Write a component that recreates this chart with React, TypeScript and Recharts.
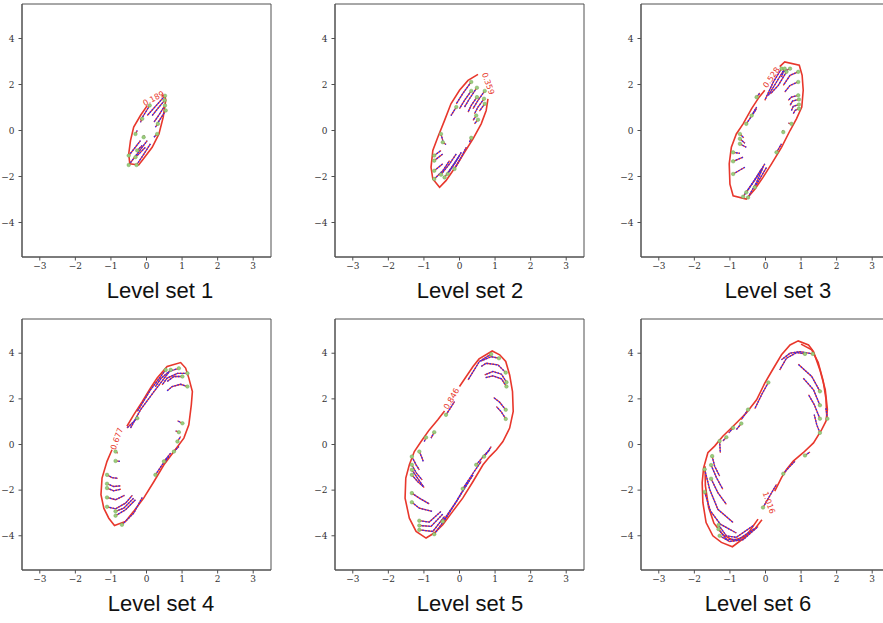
import React from 'react';
import { ScatterChart, Scatter, XAxis, YAxis, ReferenceArea } from 'recharts';

type P = [number, number];

// ---------- axes / labels ----------
const xTicks = [-3, -2, -1, 0, 1, 2, 3];
const yTicks = [-4, -2, 0, 2, 4];
const xDomain: [number, number] = [-3.5, 3.5];
const yDomain: [number, number] = [-5.5, 5.5];
const titles = ['Level set 1', 'Level set 2', 'Level set 3', 'Level set 4', 'Level set 5', 'Level set 6'];
const levelValues = ['0.189', '0.359', '0.528', '0.677', '0.846', '1.016'];
const levelLabelPos: P[] = [[0.2, 1.38], [0.8, 2.04], [0.17, 2.3], [-0.83, 0.25], [-0.22, 2.0], [0.09, -2.55]];

// ---------- level set contours ----------
const contour1: P[] = [[0.02,1.08],[-0.17,0.65],[-0.36,0.15],[-0.45,-0.44],[-0.5,-1.02],[-0.47,-1.45],[-0.22,-1.5],[-0.09,-1.24],[0.16,-0.73],[0.35,-0.15],[0.47,0.58],[0.54,1.31],[0.52,1.5],[0.42,1.52]];
const contour2: P[] = [[0.52,2.44],[0.24,2.18],[0,1.75],[-0.24,1.16],[-0.42,0.44],[-0.61,-0.29],[-0.75,-0.87],[-0.8,-1.6],[-0.75,-2.11],[-0.56,-2.47],[-0.38,-2.18],[-0.09,-1.53],[0.14,-0.95],[0.38,-0.36],[0.61,0.29],[0.75,0.87],[0.8,1.38]];
const contour3: P[] = [[0.4,2.78],[0.54,2.98],[0.95,2.84],[1.03,2.4],[1.06,1.75],[1.02,1.02],[0.87,0.51],[0.69,0],[0.45,-0.73],[0.17,-1.45],[-0.07,-2.04],[-0.3,-2.55],[-0.54,-2.98],[-0.91,-2.84],[-1.0,-2.33],[-1.02,-1.45],[-0.96,-0.73],[-0.82,-0.15],[-0.63,0.29],[-0.39,0.95],[-0.18,1.45],[-0.02,1.75]];
const contour4: P[] = [[-0.97,-0.23],[-1.11,-0.74],[-1.25,-1.47],[-1.28,-2.2],[-1.2,-2.79],[-1.06,-3.23],[-0.9,-3.55],[-0.59,-3.37],[-0.36,-2.93],[-0.08,-2.35],[0.21,-1.62],[0.49,-0.89],[0.77,-0.31],[1.05,0.28],[1.19,0.86],[1.26,1.74],[1.29,2.32],[1.19,2.91],[1.1,3.35],[0.96,3.59],[0.58,3.42],[0.3,2.91],[0.11,2.47],[-0.12,1.88],[-0.36,1.3],[-0.55,0.8]];
const contour5: P[] = [[0,2.54],[0.19,2.98],[0.38,3.42],[0.55,3.75],[0.92,4.1],[1.13,3.93],[1.3,3.64],[1.41,3.05],[1.49,2.32],[1.51,1.45],[1.41,0.72],[1.22,0.13],[1.04,-0.23],[0.85,-0.53],[0.66,-0.89],[0.38,-1.62],[0.09,-2.35],[-0.19,-2.93],[-0.47,-3.52],[-0.71,-3.88],[-0.94,-4.1],[-1.22,-3.81],[-1.41,-3.23],[-1.53,-2.35],[-1.51,-1.47],[-1.41,-0.89],[-1.27,-0.31],[-1.08,0.13],[-0.85,0.64],[-0.61,1.08],[-0.42,1.47]];
const contour6: P[] = [[-0.21,-3.27],[-0.44,-3.78],[-0.58,-4.07],[-0.93,-4.48],[-1.24,-4.29],[-1.48,-4.0],[-1.67,-3.42],[-1.76,-2.55],[-1.78,-1.67],[-1.74,-1.02],[-1.62,-0.36],[-1.43,-0.07],[-1.2,0.36],[-0.91,0.8],[-0.54,1.38],[-0.25,1.96],[-0.02,2.69],[0.17,3.2],[0.45,3.93],[0.69,4.36],[0.92,4.54],[1.21,4.36],[1.35,4.07],[1.53,3.27],[1.68,2.4],[1.74,1.53],[1.7,1.02],[1.58,0.65],[1.35,0.07],[1.06,-0.36],[0.78,-0.73],[0.59,-1.09],[0.45,-1.45],[0.26,-2.04]];
const contour6Inner: P[][] = [
  [[-1.7,-0.95],[-1.69,-1.8],[-1.6,-2.75],[-1.45,-3.45],[-1.2,-3.95],[-0.9,-4.2],[-0.6,-4.05],[-0.3,-3.7],[-0.1,-3.3]],
  [[1.0,4.4],[1.3,4.15],[1.48,3.6],[1.62,2.8],[1.7,2.0],[1.72,1.3]],
];

// ---------- trajectories (first point = start marker) ----------
const traj1: P[][] = [
  [[0.52,1.51],[0.27,1.08],[0.02,0.65]],
  [[0.51,1.31],[0.33,0.98],[0.16,0.65]],
  [[0.52,1.09],[0.37,0.72],[0.21,0.36]],
  [[0.54,0.87],[0.42,0.58],[0.3,0.29]],
  [[0.09,1.09],[-0.04,0.76],[-0.17,0.44]],
  [[0.32,0.29],[0.25,0.15]],
  [[0.3,-0.15],[0.21,-0.29]],
  [[-0.5,-1.5],[-0.24,-0.97],[0.02,-0.44]],
  [[-0.28,-1.5],[-0.08,-1.04],[0.11,-0.58]],
  [[-0.5,-1.09],[-0.33,-0.76],[-0.17,-0.44]],
  [[-0.31,-1.16],[-0.17,-0.95],[-0.03,-0.73]],
  [[-0.26,-0.87],[-0.12,-0.65]],
  [[-0.31,-0.15],[-0.26,0]],
  [[-0.08,-0.29],[-0.06,-0.22]],
  [[-0.12,0.51],[-0.17,0.36]],
];
const traj2: P[][] = [
  [[0.33,2.11],[0.09,1.6],[-0.09,1.16]],
  [[0.33,1.72],[0.14,1.31],[0,0.95]],
  [[0.49,1.86],[0.28,1.38],[0.14,1.02]],
  [[0.49,1.45],[0.33,1.09],[0.24,0.8]],
  [[0.71,1.72],[0.52,1.31],[0.38,0.95]],
  [[0.69,1.38],[0.52,1.02],[0.42,0.73]],
  [[0.71,1.16],[0.56,0.84]],
  [[0.47,0.65],[0.38,0.44]],
  [[0.52,0.47],[0.42,0.29]],
  [[-0.09,1.02],[-0.24,0.65]],
  [[0.33,-0.32],[0.28,-0.51]],
  [[-0.52,-0.15],[-0.47,-0.44]],
  [[-0.47,-0.51],[-0.38,-0.61]],
  [[-0.71,-1.09],[-0.52,-0.87]],
  [[-0.71,-1.31],[-0.47,-1.02]],
  [[-0.71,-1.75],[-0.47,-1.45]],
  [[-0.71,-2.11],[-0.47,-1.75],[-0.28,-1.31]],
  [[-0.52,-1.92],[-0.28,-1.45],[-0.09,-1.02]],
  [[-0.33,-1.89],[-0.14,-1.45],[0.05,-0.95]],
  [[-0.14,-1.67],[0.05,-1.16],[0.19,-0.73]],
  [[-0.42,-2.04],[-0.19,-1.53],[0,-1.09]],
];
const traj3: P[][] = [
  [[0.45,2.69],[0.22,2.11],[-0.02,1.31]],
  [[0.54,2.69],[0.31,2.11],[0.08,1.53]],
  [[0.59,2.55],[0.36,1.96],[0.14,1.6]],
  [[0.69,2.69],[0.5,2.55],[0.45,2.33]],
  [[0.92,2.55],[0.69,2.4],[0.5,1.96]],
  [[0.92,2.11],[0.69,1.96],[0.54,1.67]],
  [[0.92,1.53],[0.73,1.45],[0.64,1.31]],
  [[0.94,1.35],[0.76,1.28],[0.69,1.09]],
  [[0.94,1.13],[0.78,1.05],[0.73,0.87]],
  [[0.94,0.95],[0.83,0.87],[0.78,0.73]],
  [[0.73,0.29],[0.64,0.32]],
  [[0.5,-0.07],[0.48,0]],
  [[-0.54,0.29],[-0.25,0.95]],
  [[-0.39,0.65],[-0.25,1.02]],
  [[-0.25,1.45],[-0.16,1.63]],
  [[-0.72,-0.15],[-0.61,-0.32]],
  [[-0.72,-0.36],[-0.58,-0.55]],
  [[-0.72,-0.58],[-0.54,-0.73]],
  [[-0.91,-0.95],[-0.72,-0.99]],
  [[-0.91,-1.34],[-0.63,-1.16]],
  [[-0.91,-1.89],[-0.58,-1.6]],
  [[-0.49,-2.91],[-0.25,-2.25],[-0.07,-1.6]],
  [[-0.63,-2.88],[-0.35,-2.25],[-0.11,-1.67]],
  [[-0.54,-2.69],[-0.25,-2.04],[-0.02,-1.45]],
  [[-0.3,-2.47],[0.03,-1.6]],
  [[0.31,-0.95],[0.45,-0.58]],
];
const traj4: P[][] = [
  [[0.68,3.27],[0.21,2.32],[-0.17,1.52],[-0.45,0.72]],
  [[0.54,3.27],[0.11,2.39],[-0.26,1.45]],
  [[0.91,3.34],[0.63,3.2],[0.4,2.88],[0.25,2.54]],
  [[1.15,3.12],[0.87,3.12],[0.58,2.91],[0.44,2.61]],
  [[1.01,2.98],[0.77,2.98],[0.58,2.76]],
  [[1.15,2.54],[0.96,2.64],[0.72,2.54],[0.58,2.35]],
  [[1.01,0.93],[0.87,1.04]],
  [[0.91,0.54],[0.82,0.6]],
  [[0.87,0.13],[0.96,0.35]],
  [[-0.26,1.15],[-0.55,0.72]],
  [[0.25,-1.33],[0.44,-0.89],[0.63,-0.53]],
  [[0.49,-0.74],[0.68,-0.38]],
  [[0.77,-0.31],[0.91,-0.09]],
  [[-0.87,-0.31],[-0.81,-0.38]],
  [[-0.87,-0.72],[-0.75,-0.74]],
  [[-1.11,-1.33],[-0.97,-1.45],[-0.81,-1.48]],
  [[-1.11,-1.72],[-0.92,-1.84],[-0.73,-1.81]],
  [[-1.11,-1.91],[-0.92,-2.03],[-0.72,-1.96]],
  [[-1.11,-2.32],[-0.87,-2.42],[-0.62,-2.23]],
  [[-1.11,-2.73],[-0.87,-2.82],[-0.59,-2.57],[-0.4,-2.23]],
  [[-0.87,-2.93],[-0.64,-2.79],[-0.36,-2.35]],
  [[-0.87,-3.12],[-0.59,-2.86],[-0.31,-2.42]],
  [[-0.69,-3.52],[-0.36,-3.01],[-0.12,-2.32]],
];
const traj5: P[][] = [
  [[0.89,3.96],[0.56,3.64],[0.24,2.83]],
  [[1.11,3.78],[0.89,3.85],[0.61,3.66]],
  [[1.3,3.15],[1.08,3.49],[0.75,3.56],[0.61,3.42]],
  [[1.32,2.73],[1.18,3.08],[0.94,3.2],[0.71,3.05]],
  [[1.32,2.54],[1.18,2.88],[0.94,3.01],[0.73,2.93]],
  [[1.3,1.52],[1.13,1.85],[0.96,2.06]],
  [[1.3,1.12],[1.18,1.42],[1.04,1.66]],
  [[-0.38,1.3],[-0.14,1.88]],
  [[-0.71,0.54],[-0.8,0.28]],
  [[-0.94,0.31],[-0.99,0.13]],
  [[-1.13,-0.31],[-1.05,-0.6],[-1.02,-0.74]],
  [[-1.34,-0.53],[-1.22,-0.89],[-1.13,-1.11]],
  [[-1.34,-0.89],[-1.21,-1.26],[-1.05,-1.55]],
  [[-1.34,-1.11],[-1.18,-1.47],[-1.02,-1.84]],
  [[-1.34,-1.33],[-1.18,-1.62],[-0.99,-1.88]],
  [[-1.34,-2.13],[-1.13,-2.35],[-0.85,-2.6]],
  [[-1.34,-2.53],[-1.13,-2.79],[-0.77,-2.93]],
  [[-1.13,-3.34],[-0.85,-3.4],[-0.52,-2.93]],
  [[-1.13,-3.55],[-0.8,-3.59],[-0.47,-3.05]],
  [[-1.13,-3.74],[-0.75,-3.81],[-0.42,-3.15]],
  [[-0.71,-3.93],[-0.38,-3.23],[0,-2.28],[0.38,-1.33]],
  [[0.09,-1.94],[0.38,-1.26],[0.61,-0.74]],
  [[0.47,-0.89],[0.71,-0.45],[0.85,-0.23]],
  [[0.69,-0.53],[0.8,-0.31],[0.89,-0.09]],
  [[-0.47,-3.37],[-0.09,-2.5],[0.24,-1.62]],
];
const traj6: P[][] = [
  [[1.33,3.97],[0.97,4.07],[0.69,4.0],[0.45,3.71]],
  [[1.11,3.97],[0.88,4.03],[0.59,3.78],[0.4,3.27]],
  [[1.53,2.33],[1.3,2.98],[0.92,3.52]],
  [[1.53,1.72],[1.35,2.4],[1.06,2.91]],
  [[1.53,1.13],[1.37,1.75],[1.21,2.18]],
  [[1.53,0.51],[1.44,0.87],[1.37,1.31]],
  [[1.11,-0.48],[1.25,-0.33]],
  [[0.5,-1.28],[0.69,-0.95],[0.83,-0.73]],
  [[-0.07,-2.76],[0.12,-2.25],[0.31,-1.75]],
  [[0.08,2.72],[-0.11,2.18],[-0.3,1.57]],
  [[-0.49,1.53],[-0.68,1.09]],
  [[-0.68,0.92],[-0.82,0.65]],
  [[-0.91,0.73],[-1.03,0.51]],
  [[-1.1,0.32],[-1.2,0.15]],
  [[-1.29,0.15],[-1.27,-0.36]],
  [[-1.5,-0.51],[-1.43,-0.95],[-1.29,-1.38]],
  [[-1.53,-0.9],[-1.38,-1.45],[-1.2,-1.96]],
  [[-1.53,-1.5],[-1.34,-2.11],[-1.1,-2.62]],
  [[-1.71,-1.09],[-1.57,-1.96],[-1.34,-2.84],[-0.91,-3.42]],
  [[-1.71,-2.08],[-1.55,-2.91],[-1.27,-3.49],[-0.82,-3.88]],
  [[-1.32,-3.53],[-1.1,-4.0],[-0.82,-4.07],[-0.35,-3.56]],
  [[-1.32,-3.71],[-1.1,-4.15],[-0.77,-4.17],[-0.3,-3.68]],
  [[-1.29,-4.0],[-1.01,-4.25],[-0.63,-4.17],[-0.21,-3.59]],
  [[1.74,1.13],[1.7,1.6]],
];

const contours: P[][][] = [[contour1], [contour2], [contour3], [contour4], [contour5], [contour6, ...contour6Inner]];
const trajectories: P[][][] = [traj1, traj2, traj3, traj4, traj5, traj6];

// ---------- layout & style (not data) ----------
const PLOT_W = 249;
const Y_AXIS_W = 22;
const X_AXIS_H = 30;
const LAYOUT = [
  { left: 22, top: 4, h: 253, titleX: 160, titleBase: 299, labelAngle: -28 },
  { left: 335, top: 4, h: 253, titleX: 470, titleBase: 299, labelAngle: 70 },
  { left: 641, top: 4, h: 253, titleX: 778, titleBase: 299, labelAngle: -55 },
  { left: 22, top: 319, h: 251, titleX: 161, titleBase: 612, labelAngle: -70 },
  { left: 335, top: 319, h: 251, titleX: 470, titleBase: 612, labelAngle: -60 },
  { left: 641, top: 319, h: 251, titleX: 758, titleBase: 612, labelAngle: 70 },
];
const RED = '#e8372c';
const BLUE = '#2b2bff';
const GREEN = '#9acd7a';
const FRAME = '#505050';
const tickStyle = { fontFamily: "'DejaVu Serif', 'Liberation Serif', serif", fontSize: 9, fill: '#333' };

const toPts = (arr: P[]) => arr.map(([x, y]) => ({ x, y }));
const fmt = (v: number) => String(v).replace('-', '\u2212');
const Empty = () => <g />;

function Panel({ i }: { i: number }) {
  const L = LAYOUT[i];
  const starts = trajectories[i].map((t) => t[0]);
  const label = [{ x: levelLabelPos[i][0], y: levelLabelPos[i][1], text: levelValues[i] }];
  return (
    <div style={{ position: 'absolute', left: L.left - Y_AXIS_W, top: L.top - 4 }}>
      <ScatterChart
        width={Y_AXIS_W + PLOT_W + 8}
        height={4 + L.h + X_AXIS_H}
        margin={{ top: 4, right: 8, bottom: 0, left: 0 }}
      >
        <XAxis
          type="number"
          dataKey="x"
          domain={xDomain}
          ticks={xTicks}
          allowDataOverflow
          height={X_AXIS_H}
          tickSize={3.5}
          tickMargin={2}
          tick={tickStyle}
          tickFormatter={fmt}
          stroke={FRAME}
          interval={0}
        />
        <YAxis
          type="number"
          dataKey="y"
          domain={yDomain}
          ticks={yTicks}
          allowDataOverflow
          width={Y_AXIS_W}
          tickSize={3.5}
          tickMargin={4}
          tick={tickStyle}
          tickFormatter={fmt}
          stroke={FRAME}
          interval={0}
        />
        <ReferenceArea x1={xDomain[0]} x2={xDomain[1]} y1={yDomain[0]} y2={yDomain[1]} fill="none" stroke={FRAME} strokeWidth={1} />
        {contours[i].map((c, k) => (
          <Scatter
            key={'c' + k}
            data={toPts(c)}
            shape={Empty}
            line={{ stroke: RED, strokeWidth: 1.6 }}
            isAnimationActive={false}
          />
        ))}
        {trajectories[i].map((t, k) => (
          <Scatter
            key={'tr' + k}
            data={toPts(t)}
            shape={Empty}
            line={{ stroke: RED, strokeWidth: 1.3 }}
            isAnimationActive={false}
          />
        ))}
        {trajectories[i].map((t, k) => (
          <Scatter
            key={'tb' + k}
            data={toPts(t)}
            shape={Empty}
            line={{ stroke: BLUE, strokeWidth: 1.3, strokeDasharray: '1.5 1.5' }}
            isAnimationActive={false}
          />
        ))}
        <Scatter
          data={toPts(starts)}
          isAnimationActive={false}
          shape={(p: any) => <circle cx={p.cx} cy={p.cy} r={1.8} fill={GREEN} stroke="#6a9a50" strokeWidth={0.4} />}
        />
        <Scatter
          data={label}
          isAnimationActive={false}
          shape={(p: any) => (
            <text
              x={p.cx}
              y={p.cy}
              transform={`rotate(${L.labelAngle}, ${p.cx}, ${p.cy})`}
              textAnchor="middle"
              dominantBaseline="central"
              fontSize={8}
              fontFamily="'DejaVu Sans', sans-serif"
              fill={RED}
            >
              {p.payload.text}
            </text>
          )}
        />
      </ScatterChart>
    </div>
  );
}

export default function App() {
  return (
    <div style={{ position: 'absolute', left: 0, top: 0, width: 883, height: 623, overflow: 'hidden', background: '#fff' }}>
      {LAYOUT.map((L, i) => (
        <React.Fragment key={i}>
          <Panel i={i} />
          <div
            style={{
              position: 'absolute',
              left: L.titleX - 110,
              width: 220,
              top: L.titleBase - 18.6,
              textAlign: 'center',
              fontFamily: "'Liberation Sans', Arial, Helvetica, sans-serif",
              fontSize: 22,
              lineHeight: '22px',
              color: '#111',
              whiteSpace: 'nowrap',
            }}
          >
            {titles[i]}
          </div>
        </React.Fragment>
      ))}
    </div>
  );
}
